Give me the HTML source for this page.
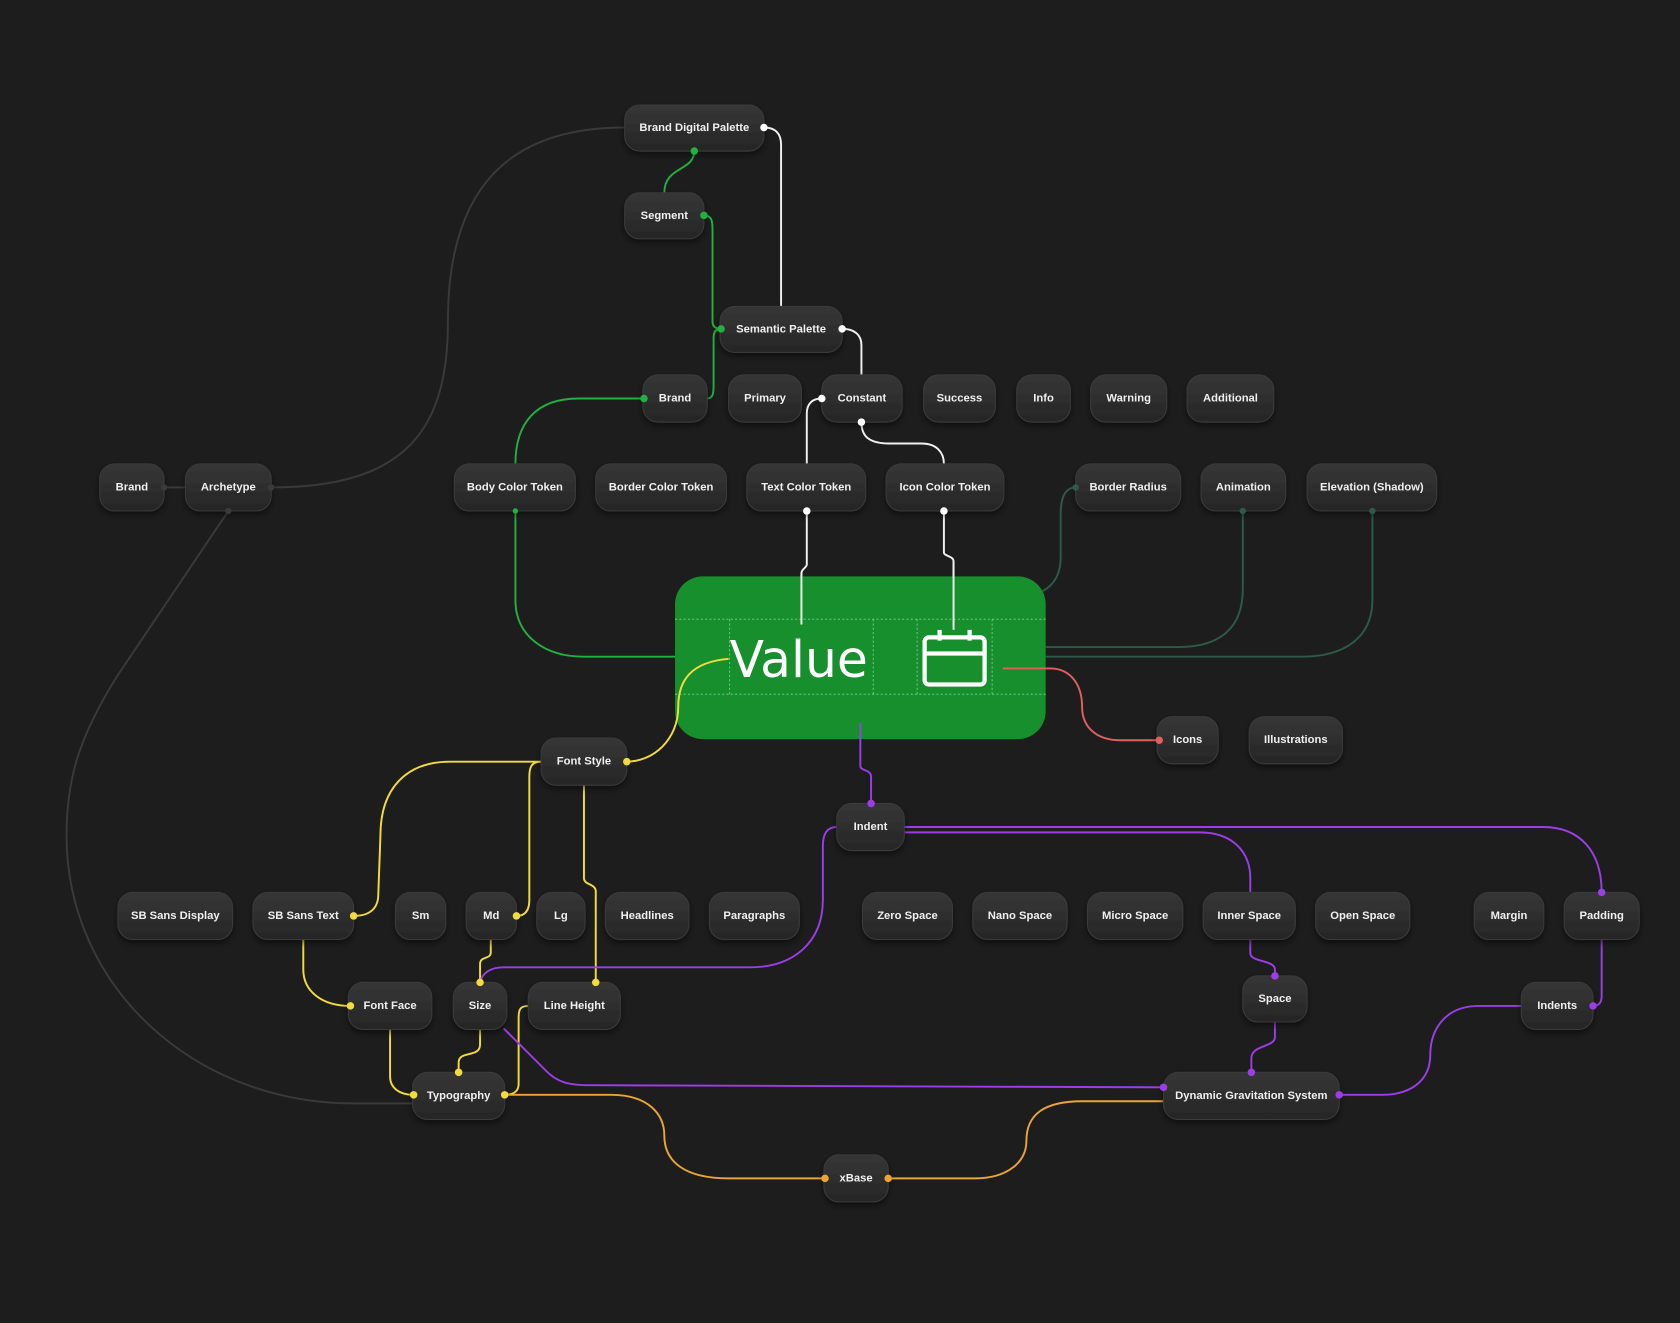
<!DOCTYPE html>
<html><head><meta charset="utf-8"><style>
html,body{margin:0;padding:0;background:#1d1d1d;}
svg{display:block}
.n rect{fill:url(#ng);stroke:#3a3a3a;stroke-width:1}
.n text{fill:#f0f0f0;font-family:"Liberation Sans",sans-serif;font-size:10.5px;font-weight:bold;text-anchor:middle;dominant-baseline:central}
path{fill:none;stroke-width:1.8}
</style></head><body>
<svg width="1680" height="1323" viewBox="0 0 1568 1235" xmlns="http://www.w3.org/2000/svg">
<defs>
<linearGradient id="ng" x1="0" y1="0" x2="0" y2="1"><stop offset="0" stop-color="#363636"/><stop offset="1" stop-color="#262626"/></linearGradient>
<filter id="sh" x="-20%" y="-20%" width="140%" height="160%"><feDropShadow dx="0" dy="3" stdDeviation="3" flood-color="#000" flood-opacity="0.5"/></filter>
</defs>
<rect width="1568" height="1235" fill="#1d1d1d"/>

<!-- gray -->
<g stroke="#3a3a3a">
<path d="M253 455 C380 455 418 400 418 300 C418 170 480 119 583 119"/>
<path d="M153 455 L173 455"/>
<path d="M213 477 L110 630 C72 690 62 730 62 780 C62 920 180 1030 330 1030 L386 1030"/>
</g>
<!-- green -->
<g stroke="#22b040">
<path d="M648 141 C648 160 620 155 620 180"/>
<path d="M657 201 C665 201 665 208 665 215 L665 300 C665 305 668 307 673 307"/>
<path d="M660 372 C665 372 666 368 666 360 L666 315 C666 310 668 307 673 307"/>
<path d="M481 433 C481 395 500 372 540 372 L601 372"/>
<path d="M481 477 L481 560 C481 595 510 613 545 613 L630 613"/>
</g>
<!-- white -->
<g stroke="#f2f2f2">
<path d="M713 119 C724 119 729 125 729 135 L729 286"/>
<path d="M786 307 C798 307 804 313 804 322 L804 350"/>
<path d="M767 372 C758 372 753 377 753 386 L753 433"/>
<path d="M804 394 C804 408 812 414 830 414 L860 414 C874 414 881 422 881 433"/>
<path d="M753 477 L753 527 C753 530 748 531 748 535 L748 583"/>
<path d="M881 477 L881 516 C881 519 890 519 890 524 L890 588"/>
</g>
<!-- dark green -->
<g stroke="#2e5a48">
<path d="M1004 455 C994 455 990 465 990 480 L990 520 C990 535 985 545 973 552"/>
<path d="M1160 477 L1160 550 C1160 585 1140 604 1100 604 L976 604"/>
<path d="M1281 477 L1281 560 C1281 595 1255 613 1215 613 L976 613"/>
</g>
<!-- green box -->
<rect x="630" y="538" width="346" height="152" rx="26" fill="#168f2c"/>
<g stroke="#7fcf8f" stroke-width="0.8" stroke-dasharray="2 2" fill="none">
<line x1="630" y1="578" x2="976" y2="578"/><line x1="630" y1="648" x2="976" y2="648"/>
<line x1="681" y1="578" x2="681" y2="648"/><line x1="815" y1="578" x2="815" y2="648"/>
<line x1="856" y1="578" x2="856" y2="648"/><line x1="926" y1="578" x2="926" y2="648"/>
</g>
<path d="M748 535 L748 583" stroke="#f2f2f2"/>
<path d="M890 524 L890 588" stroke="#f2f2f2"/>
<text x="681" y="632" fill="#fff" font-family="DejaVu Sans,sans-serif" font-size="47">Value</text>
<g stroke="#fff" stroke-width="4" fill="none"><rect x="863" y="595" width="56" height="44" rx="4"/><line x1="863" y1="610" x2="919" y2="610"/><line x1="877" y1="588" x2="877" y2="598"/><line x1="905" y1="588" x2="905" y2="598"/></g>
<!-- red -->
<path stroke="#e06060" d="M936 624 L980 624 C1000 624 1010 640 1010 660 C1010 680 1025 691 1045 691 L1082 691"/>
<!-- yellow -->
<g stroke="#f2dc3c">
<path d="M680 615 C645 618 633 635 633 660 C633 690 610 711 585 711"/>
<path d="M505 711 L420 711 C380 711 355 735 355 780 L353 835 C353 848 345 855 330 855"/>
<path d="M505 711 C496 711 494 716 494 725 L494 840 C494 850 490 855 482 855"/>
<path d="M545 733 L545 820 C545 826 556 825 556 832 L556 917"/>
<path d="M283 877 L283 905 C283 925 300 939 327 939"/>
<path d="M458 877 L458 889 C458 896 448 892 448 900 L448 917"/>
<path d="M364 961 L364 1005 C364 1015 372 1022 386 1022"/>
<path d="M448 961 L448 975 C448 988 428 980 428 992 L428 1001"/>
<path d="M493 939 C485 939 484 943 484 950 L484 1012 C484 1018 480 1022 471 1022"/>
</g>
<!-- orange -->
<g stroke="#eba534">
<path d="M471 1022 L570 1022 C605 1022 620 1040 620 1060 C620 1085 640 1100 680 1100 L770 1100"/>
<path d="M829 1100 L910 1100 C940 1100 958 1085 958 1065 C958 1040 975 1028 1010 1028 L1086 1028"/>
</g>
<!-- purple -->
<g stroke="#9b3ee8">
<path d="M803 675 L803 715 C803 720 813 718 813 725 L813 750"/>
<path d="M781 772 C772 772 768 778 768 790 L768 840 C768 880 740 903 700 903 L470 903 C458 903 450 908 448 917"/>
<path d="M470 960 L510 1000 C520 1010 530 1013 550 1013 L1086 1015"/>
<path d="M844 772 L1440 772 C1475 772 1495 795 1495 833"/>
<path d="M844 777 L1120 777 C1150 777 1167 795 1167 820 L1167 833"/>
<path d="M1167 877 L1167 890 C1167 898 1190 896 1190 905 L1190 911"/>
<path d="M1190 954 L1190 968 C1190 978 1168 975 1168 988 L1168 1001"/>
<path d="M1495 877 L1495 930 C1495 936 1492 939 1487 939"/>
<path d="M1420 939 L1380 939 C1350 939 1335 960 1335 985 C1335 1010 1315 1022 1290 1022 L1250 1022"/>
</g>

<!-- nodes -->
<g filter="url(#sh)">
<g class="n"><rect x="583" y="98" width="130" height="43" rx="14"/><text x="648" y="119.5">Brand Digital Palette</text></g>
<g class="n"><rect x="583" y="180" width="74" height="43" rx="14"/><text x="620" y="201.5">Segment</text></g>
<g class="n"><rect x="672" y="286" width="114" height="43" rx="14"/><text x="729" y="307.5">Semantic Palette</text></g>
<g class="n"><rect x="600" y="350" width="60" height="44" rx="14"/><text x="630" y="372">Brand</text></g>
<g class="n"><rect x="680" y="350" width="68" height="44" rx="14"/><text x="714" y="372">Primary</text></g>
<g class="n"><rect x="767" y="350" width="75" height="44" rx="14"/><text x="804.5" y="372">Constant</text></g>
<g class="n"><rect x="862" y="350" width="67" height="44" rx="14"/><text x="895.5" y="372">Success</text></g>
<g class="n"><rect x="949" y="350" width="50" height="44" rx="14"/><text x="974" y="372">Info</text></g>
<g class="n"><rect x="1018" y="350" width="71" height="44" rx="14"/><text x="1053.5" y="372">Warning</text></g>
<g class="n"><rect x="1108" y="350" width="81" height="44" rx="14"/><text x="1148.5" y="372">Additional</text></g>
<g class="n"><rect x="93" y="433" width="60" height="44" rx="14"/><text x="123" y="455">Brand</text></g>
<g class="n"><rect x="173" y="433" width="80" height="44" rx="14"/><text x="213" y="455">Archetype</text></g>
<g class="n"><rect x="424" y="433" width="113" height="44" rx="14"/><text x="480.5" y="455">Body Color Token</text></g>
<g class="n"><rect x="556" y="433" width="122" height="44" rx="14"/><text x="617" y="455">Border Color Token</text></g>
<g class="n"><rect x="697" y="433" width="111" height="44" rx="14"/><text x="752.5" y="455">Text Color Token</text></g>
<g class="n"><rect x="827" y="433" width="110" height="44" rx="14"/><text x="882" y="455">Icon Color Token</text></g>
<g class="n"><rect x="1004" y="433" width="98" height="44" rx="14"/><text x="1053" y="455">Border Radius</text></g>
<g class="n"><rect x="1121" y="433" width="79" height="44" rx="14"/><text x="1160.5" y="455">Animation</text></g>
<g class="n"><rect x="1220" y="433" width="121" height="44" rx="14"/><text x="1280.5" y="455">Elevation (Shadow)</text></g>
<g class="n"><rect x="1080" y="669" width="57" height="44" rx="14"/><text x="1108.5" y="691">Icons</text></g>
<g class="n"><rect x="1166" y="669" width="87" height="44" rx="14"/><text x="1209.5" y="691">Illustrations</text></g>
<g class="n"><rect x="505" y="689" width="80" height="44" rx="14"/><text x="545" y="711">Font Style</text></g>
<g class="n"><rect x="781" y="750" width="63" height="44" rx="14"/><text x="812.5" y="772">Indent</text></g>
<g class="n"><rect x="110" y="833" width="107" height="44" rx="14"/><text x="163.5" y="855">SB Sans Display</text></g>
<g class="n"><rect x="236" y="833" width="94" height="44" rx="14"/><text x="283" y="855">SB Sans Text</text></g>
<g class="n"><rect x="369" y="833" width="47" height="44" rx="14"/><text x="392.5" y="855">Sm</text></g>
<g class="n"><rect x="435" y="833" width="47" height="44" rx="14"/><text x="458.5" y="855">Md</text></g>
<g class="n"><rect x="501" y="833" width="45" height="44" rx="14"/><text x="523.5" y="855">Lg</text></g>
<g class="n"><rect x="565" y="833" width="78" height="44" rx="14"/><text x="604" y="855">Headlines</text></g>
<g class="n"><rect x="662" y="833" width="84" height="44" rx="14"/><text x="704" y="855">Paragraphs</text></g>
<g class="n"><rect x="805" y="833" width="84" height="44" rx="14"/><text x="847" y="855">Zero Space</text></g>
<g class="n"><rect x="908" y="833" width="88" height="44" rx="14"/><text x="952" y="855">Nano Space</text></g>
<g class="n"><rect x="1015" y="833" width="89" height="44" rx="14"/><text x="1059.5" y="855">Micro Space</text></g>
<g class="n"><rect x="1123" y="833" width="86" height="44" rx="14"/><text x="1166" y="855">Inner Space</text></g>
<g class="n"><rect x="1228" y="833" width="88" height="44" rx="14"/><text x="1272" y="855">Open Space</text></g>
<g class="n"><rect x="1376" y="833" width="65" height="44" rx="14"/><text x="1408.5" y="855">Margin</text></g>
<g class="n"><rect x="1460" y="833" width="70" height="44" rx="14"/><text x="1495" y="855">Padding</text></g>
<g class="n"><rect x="325" y="917" width="78" height="44" rx="14"/><text x="364" y="939">Font Face</text></g>
<g class="n"><rect x="423" y="917" width="50" height="44" rx="14"/><text x="448" y="939">Size</text></g>
<g class="n"><rect x="493" y="917" width="86" height="44" rx="14"/><text x="536" y="939">Line Height</text></g>
<g class="n"><rect x="1160" y="911" width="60" height="43" rx="14"/><text x="1190" y="932.5">Space</text></g>
<g class="n"><rect x="1420" y="917" width="67" height="44" rx="14"/><text x="1453.5" y="939">Indents</text></g>
<g class="n"><rect x="385" y="1001" width="86" height="44" rx="14"/><text x="428" y="1023">Typography</text></g>
<g class="n"><rect x="1086" y="1001" width="164" height="44" rx="14"/><text x="1168" y="1023">Dynamic Gravitation System</text></g>
<g class="n"><rect x="769" y="1078" width="60" height="44" rx="14"/><text x="799" y="1100">xBase</text></g>
</g>

<!-- dots -->
<g fill="#22b040"><circle cx="648" cy="141" r="3.5"/><circle cx="657" cy="201" r="3.5"/><circle cx="673" cy="307" r="3.5"/><circle cx="601" cy="372" r="3.5"/><circle cx="481" cy="477" r="2.5"/></g>
<g fill="#fff"><circle cx="713" cy="119" r="3.5"/><circle cx="786" cy="307" r="3.5"/><circle cx="767" cy="372" r="3.5"/><circle cx="804" cy="394" r="3.5"/><circle cx="753" cy="477" r="3.5"/><circle cx="881" cy="477" r="3.5"/></g>
<g fill="#2e5a48"><circle cx="1004" cy="455" r="3"/><circle cx="1160" cy="477" r="3"/><circle cx="1281" cy="477" r="3"/></g>
<g fill="#3a3a3a"><circle cx="153" cy="455" r="3"/><circle cx="253" cy="455" r="3"/><circle cx="213" cy="477" r="3"/></g>
<circle cx="1082" cy="691" r="3.5" fill="#e06060"/>
<g fill="#f2dc3c"><circle cx="585" cy="711" r="3.5"/><circle cx="330" cy="855" r="3.5"/><circle cx="482" cy="855" r="3.5"/><circle cx="556" cy="917" r="3.5"/><circle cx="327" cy="939" r="3.5"/><circle cx="448" cy="917" r="3.5"/><circle cx="386" cy="1022" r="3.5"/><circle cx="428" cy="1001" r="3.5"/><circle cx="471" cy="1022" r="3.5"/></g>
<g fill="#eba534"><circle cx="770" cy="1100" r="3.5"/><circle cx="829" cy="1100" r="3.5"/></g>
<g fill="#9b3ee8"><circle cx="813" cy="750" r="3.5"/><circle cx="1495" cy="833" r="3.5"/><circle cx="1190" cy="911" r="3.5"/><circle cx="1168" cy="1001" r="3.5"/><circle cx="1487" cy="939" r="3.5"/><circle cx="1250" cy="1022" r="3.5"/><circle cx="1086" cy="1015" r="3.5"/></g>
</svg>
</body></html>
